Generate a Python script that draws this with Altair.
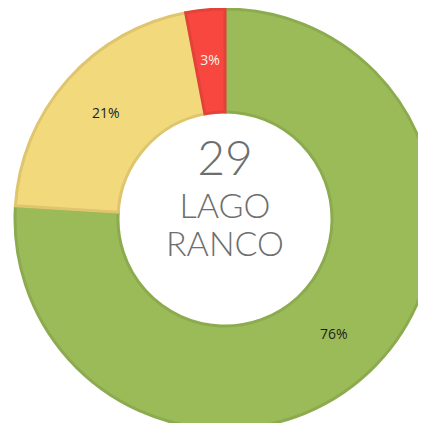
import altair as alt
import pandas as pd

categories = ["green", "yellow", "red"]
values = [76, 21, 3]
labels = ["76%", "21%", "3%"]
fills = ["#9BBB59", "#F2DA7C", "#F8473F"]
strokes = ["#8CAB4F", "#DEC56E", "#E2423A"]
label_colors = ["#1E1E1E", "#1E1E1E", "#F4F4F4"]
center_lines = ["29", "LAGO", "RANCO"]

df = pd.DataFrame({"cat": categories, "val": values, "label": labels,
                   "ord": [0, 1, 2], "lc": label_colors})

CX, CY = 217, 211

base = alt.Chart(df).encode(
    theta=alt.Theta("val:Q", stack=True),
    order=alt.Order("ord:Q"),
)

arcs = base.mark_arc(outerRadius=210, innerRadius=107, strokeWidth=3).encode(
    x=alt.value(CX), y=alt.value(CY),
    color=alt.Color("cat:N", scale=alt.Scale(domain=categories, range=fills), legend=None),
    stroke=alt.Stroke("cat:N", scale=alt.Scale(domain=categories, range=strokes), legend=None),
)

text = base.mark_text(radius=159, font="Open Sans", fontSize=14).encode(
    x=alt.value(CX), y=alt.value(CY),
    text="label:N",
    color=alt.Color("lc:N", scale=None),
)

cdf = pd.DataFrame({"t": center_lines, "yy": [167, 210, 248], "fs": [48, 34, 34]})
center = alt.Chart(cdf).mark_text(font="Lato", fontWeight=300, color="#6E6E6E",
                                   baseline="alphabetic").encode(
    x=alt.value(CX),
    y=alt.Y("yy:Q", scale=None),
    text="t:N",
    size=alt.Size("fs:Q", scale=None),
)

chart = alt.layer(arcs, text, center).properties(
    width=410, height=415,
    autosize=alt.AutoSizeParams(type="none"),
    padding=0,
).configure_view(stroke=None)

chart.save("out.html", embed_options={"renderer": "svg", "actions": False})
